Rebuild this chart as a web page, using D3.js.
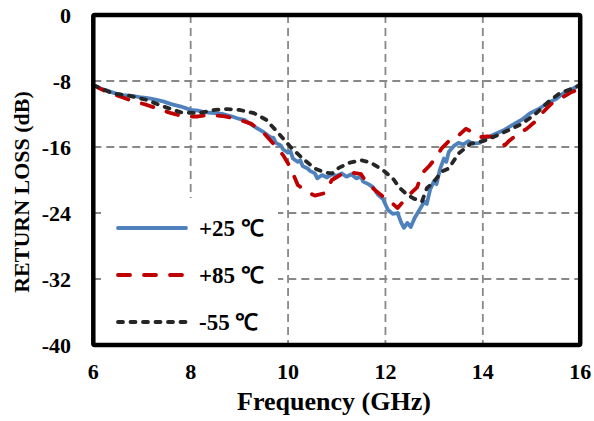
<!DOCTYPE html>
<html>
<head>
<meta charset="utf-8">
<script src="https://cdn.jsdelivr.net/npm/d3@7"></script>
</head>
<body style="margin:0">
<script>
// [GHz, dB]
var freq25 = [6.0, 6.15, 6.3, 6.45, 6.6, 6.8, 7.0, 7.15, 7.3, 7.45, 7.6, 7.8, 8.0, 8.15, 8.3, 8.5, 8.66, 8.85, 9.0, 9.1, 9.2, 9.36, 9.5, 9.63, 9.7, 9.75, 9.85, 9.9, 10.0, 10.05, 10.1, 10.2, 10.25, 10.3, 10.4, 10.45, 10.55, 10.6, 10.7, 10.8, 10.9, 11.0, 11.1, 11.2, 11.3, 11.4, 11.5, 11.54, 11.65, 11.75, 11.85, 11.95, 12.05, 12.15, 12.25, 12.32, 12.38, 12.45, 12.52, 12.6, 12.7, 12.8, 12.85, 12.92, 13.0, 13.05, 13.12, 13.2, 13.25, 13.3, 13.4, 13.5, 13.6, 13.7, 13.8, 13.94, 14.05, 14.15, 14.3, 14.45, 14.62, 14.8, 14.97, 15.15, 15.32, 15.5, 15.65, 15.8, 16.0];
var rl25 = [-8.5, -8.9, -9.2, -9.5, -9.7, -9.8, -10.0, -10.1, -10.3, -10.5, -10.8, -11.1, -11.5, -11.6, -11.8, -11.9, -12.0, -12.3, -12.6, -12.7, -13.1, -13.7, -14.2, -14.8, -14.9, -15.5, -15.8, -16.3, -16.7, -16.5, -17.4, -17.8, -17.6, -18.3, -18.6, -18.9, -19.2, -19.8, -19.4, -19.7, -19.3, -19.5, -19.2, -19.6, -19.3, -19.8, -19.6, -20.2, -20.5, -20.9, -21.8, -22.3, -23.6, -24.1, -24.0, -25.1, -25.8, -25.2, -25.7, -24.6, -23.6, -22.6, -22.9, -21.1, -20.1, -20.5, -18.7, -17.4, -17.8, -16.6, -15.9, -15.5, -15.7, -15.3, -15.6, -15.5, -14.9, -14.7, -14.3, -13.9, -13.3, -12.7, -11.9, -11.4, -10.7, -10.2, -9.5, -9.1, -8.4];

var freq85 = [6.0, 6.3, 6.61, 6.8, 7.1, 7.35, 7.6, 7.85, 8.15, 8.4, 8.7, 8.95, 9.25, 9.5, 9.7, 9.9, 10.05, 10.2, 10.35, 10.55, 10.75, 10.9, 11.1, 11.3, 11.5, 11.6, 11.8, 11.95, 12.1, 12.25, 12.45, 12.65, 12.75, 12.9, 13.05, 13.15, 13.3, 13.45, 13.65, 13.8, 13.95, 14.1, 14.3, 14.45, 14.55, 14.75, 14.9, 15.1, 15.2, 15.4, 15.6, 15.8, 16.0];
var rl85 = [-8.5, -9.4, -10.0, -10.4, -10.9, -11.4, -11.9, -12.3, -12.3, -12.1, -12.3, -12.6, -13.2, -14.3, -15.6, -17.0, -18.5, -20.6, -21.3, -21.9, -21.6, -20.0, -19.3, -19.1, -19.3, -20.2, -21.3, -22.0, -22.6, -23.4, -22.0, -20.9, -19.2, -18.3, -17.2, -16.2, -15.3, -14.9, -13.8, -14.2, -14.8, -14.7, -14.9, -15.8, -15.2, -14.3, -13.8, -12.8, -12.0, -10.8, -10.1, -9.4, -8.9];

var freq55 = [6.0, 6.4, 6.75, 7.1, 7.45, 7.8, 8.15, 8.5, 8.75, 9.0, 9.3, 9.55, 9.8, 10.05, 10.3, 10.55, 10.75, 10.9, 11.05, 11.27, 11.5, 11.7, 11.95, 12.15, 12.3, 12.45, 12.6, 12.75, 12.85, 13.0, 13.15, 13.3, 13.5, 13.75, 14.0, 14.25, 14.55, 14.8, 15.1, 15.35, 15.6, 15.85, 16.0];
var rl55 = [-8.5, -9.5, -9.8, -10.3, -11.1, -11.8, -11.9, -11.5, -11.4, -11.5, -11.9, -12.7, -14.3, -16.0, -17.4, -18.6, -19.1, -19.2, -18.5, -17.9, -17.6, -17.9, -18.8, -19.8, -21.0, -21.8, -22.3, -22.6, -21.0, -20.2, -19.0, -18.6, -16.8, -15.6, -15.3, -14.7, -13.9, -13.2, -11.9, -10.5, -9.4, -8.9, -8.5];

var xTicks = [6, 8, 10, 12, 14, 16];
var yTicks = [0, -8, -16, -24, -32, -40];
var seriesNames = ["+25 \u2103", "+85 \u2103", "-55 \u2103"];

function visualize() {
    var w = 594, h = 421;
    var left = 93.3, right = 580.2, top = 15, bottom = 345;
    var fam = "Liberation Serif";

    var svg = d3.select("body").append("svg").attr("width", w).attr("height", h);

    var x = d3.scaleLinear().domain([6, 16]).range([left, right]);
    var y = d3.scaleLinear().domain([-40, 0]).range([bottom, top]);

    // grid
    svg.append("g").selectAll("line")
        .data(xTicks.slice(1, -1))
        .enter().append("line")
        .attr("x1", d => x(d)).attr("x2", d => x(d))
        .attr("y1", top).attr("y2", bottom)
        .style("stroke", "#888").style("stroke-width", 1.8).style("stroke-dasharray", "8,5");
    svg.append("g").selectAll("line")
        .data(yTicks.slice(1, -1))
        .enter().append("line")
        .attr("x1", left).attr("x2", right)
        .attr("y1", d => y(d)).attr("y2", d => y(d))
        .style("stroke", "#888").style("stroke-width", 1.8).style("stroke-dasharray", "8,5");

    var line = d3.line().x(d => x(d[0])).y(d => y(d[1]));

    var series = [
        {name: seriesNames[0], data: d3.zip(freq25, rl25), color: "#4f81bd", dash: null},
        {name: seriesNames[1], data: d3.zip(freq85, rl85), color: "#c00000", dash: "12,14"},
        {name: seriesNames[2], data: d3.zip(freq55, rl55), color: "#262626", dash: "5,7.5"}
    ];

    svg.append("g").selectAll("path")
        .data(series)
        .enter().append("path")
        .attr("d", d => line(d.data))
        .style("fill", "none")
        .style("stroke", d => d.color)
        .style("stroke-width", 3.8)
        .style("stroke-linecap", "round")
        .style("stroke-linejoin", "round")
        .style("stroke-dasharray", d => d.dash);

    // legend box covers the grid
    var legend = svg.append("g");
    legend.append("rect")
        .attr("x", 101).attr("y", 198).attr("width", 177).attr("height", 145)
        .style("fill", "#fff");
    var items = legend.selectAll("g")
        .data(series)
        .enter().append("g")
        .attr("transform", (d, i) => "translate(0," + (228 + i * 47) + ")");
    items.append("line")
        .attr("x1", 118).attr("x2", 186).attr("y1", 0).attr("y2", 0)
        .style("stroke", d => d.color)
        .style("stroke-width", 3.8)
        .style("stroke-linecap", "round")
        .style("stroke-dasharray", d => d.dash);
    items.append("text")
        .attr("x", 199).attr("y", 8)
        .attr("font-family", fam).attr("font-weight", "bold")
        .attr("font-size", 23)
        .text(d => d.name);

    // frame
    svg.append("rect")
        .attr("x", left).attr("y", top)
        .attr("width", right - left).attr("height", bottom - top)
        .attr("rx", 1.5)
        .style("fill", "none").style("stroke", "#000").style("stroke-width", 4.5);

    // tick labels
    svg.append("g").selectAll("text")
        .data(xTicks)
        .enter().append("text")
        .attr("x", d => x(d)).attr("y", 379)
        .attr("font-family", fam).attr("font-weight", "bold")
        .attr("text-anchor", "middle").attr("font-size", 22)
        .text(d => d);
    svg.append("g").selectAll("text")
        .data(yTicks)
        .enter().append("text")
        .attr("x", 71).attr("y", d => y(d) + 7.5)
        .attr("font-family", fam).attr("font-weight", "bold")
        .attr("text-anchor", "end").attr("font-size", 22)
        .text(d => d);

    svg.append("text")
        .attr("x", 334).attr("y", 410)
        .attr("font-family", fam).attr("font-weight", "bold")
        .attr("text-anchor", "middle").attr("font-size", 26)
        .text("Frequency (GHz)");

    svg.append("text")
        .attr("transform", "translate(29,192) rotate(-90)")
        .attr("font-family", fam).attr("font-weight", "bold")
        .attr("text-anchor", "middle").attr("font-size", 22)
        .text("RETURN LOSS (dB)");
}

visualize();
</script>
</body>
</html>
